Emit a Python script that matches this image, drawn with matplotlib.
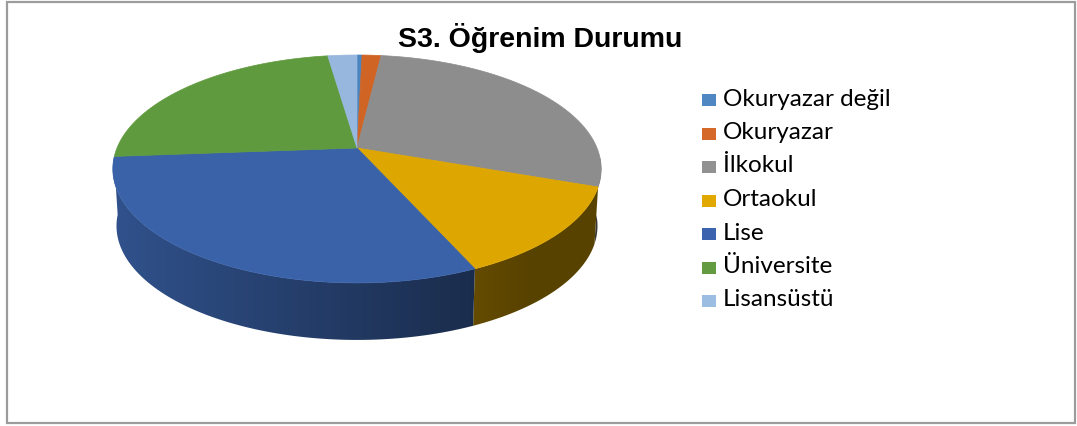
import numpy as np
import matplotlib
matplotlib.use("Agg")
import matplotlib.pyplot as plt
from matplotlib.patches import Polygon, Rectangle
import matplotlib.colors as mcolors

# data (percent)
labels = ["Okuryazar değil", "Okuryazar", "İlkokul", "Ortaokul", "Lise",
          "Üniversite", "Lisansüstü"]
shares = [0.4, 1.5, 28.5, 12.9, 30.5, 23.9, 2.3]
top_colors = ["#4a85bf", "#d06425", "#8d8d8d", "#dea600", "#3a62a8",
              "#609a3e", "#97b7de"]
legend_colors = ["#4f87c2", "#d5692a", "#919191", "#e0a800", "#3c63ae",
                 "#629b40", "#9bbde2"]
title = "S3. Öğrenim Durumu"

# pie geometry in pixels (perspective disc)
CX, CY = 357.0, 148.0
A, B, K = 240.0, 110.1, -0.184
DEPTH = 57.0
BOT_SHRINK = 0.985


def proj(phi_deg, bottom=False):
    phi = np.radians(phi_deg)
    u = np.sin(phi)
    v = -np.cos(phi)
    w = 1 + K * v
    x = CX + A * u / w
    y = CY + B * v / w
    if bottom:
        x = CX + (x - CX) * BOT_SHRINK
        y = y + DEPTH
    return x, y


def shade(x):
    return np.clip(0.83 - (x - 113) / 365 * 0.38, 0.40, 0.9)


fig = plt.figure(figsize=(10.77, 4.26), dpi=100)
ax = fig.add_axes([0, 0, 1, 1])
ax.set_xlim(0, 1077)
ax.set_ylim(426, 0)
ax.axis("off")

cum = np.concatenate([[0], np.cumsum(shares)]) / np.sum(shares) * 360.0

# outer side walls (front half), each filled with a left-to-right shading gradient
gx = np.arange(100, 620)
for i in range(len(shares)):
    a0, a1 = max(cum[i], 95.0), min(cum[i + 1], 265.0)
    if a1 <= a0:
        continue
    arc = np.linspace(a0, a1, max(int(a1 - a0) * 2, 4))
    xt, yt = proj(arc)
    xb, yb = proj(arc[::-1], True)
    pts = list(zip(xt, yt)) + list(zip(xb, yb))
    poly = Polygon(pts, closed=True, fc="none", ec="none")
    ax.add_patch(poly)
    base = np.array(mcolors.to_rgb(top_colors[i]))
    row = base[None, :] * shade(gx)[:, None]
    img = np.repeat(row[None, :, :], 2, axis=0)
    im = ax.imshow(img, extent=(gx[0], gx[-1] + 1, 360, 100), aspect="auto",
                   interpolation="bilinear", zorder=1)
    im.set_clip_path(poly)

# top faces
for i in range(len(shares)):
    arc = np.linspace(cum[i], cum[i + 1], max(int(cum[i + 1] - cum[i]) * 2, 4))
    xs, ys = proj(arc)
    pts = [(CX, CY)] + list(zip(xs, ys))
    ax.add_patch(Polygon(pts, closed=True, fc=top_colors[i], ec=top_colors[i],
                         lw=0.5, zorder=2))
ax.set_xlim(0, 1077)
ax.set_ylim(426, 0)

# title
ax.text(540, 38, title, ha="center", va="center", fontsize=20.5,
        fontweight="bold", family=["Liberation Sans", "DejaVu Sans"], color="#000000")

# legend
for i, (lab, col) in enumerate(zip(labels, legend_colors)):
    yc = 100 + i * 33.5
    ax.add_patch(Rectangle((702, yc - 6), 14, 12, fc=col, ec="none"))
    ax.text(723, yc - 1, lab, ha="left", va="center", fontsize=17.5,
            family=["Lato", "DejaVu Sans"], color="#000000")

# chart frame
ax.add_patch(Rectangle((7, 2), 1068, 421, fc="none", ec="#9c9c9c", lw=1.6))

fig.savefig("out.png", dpi=100, facecolor="white")
